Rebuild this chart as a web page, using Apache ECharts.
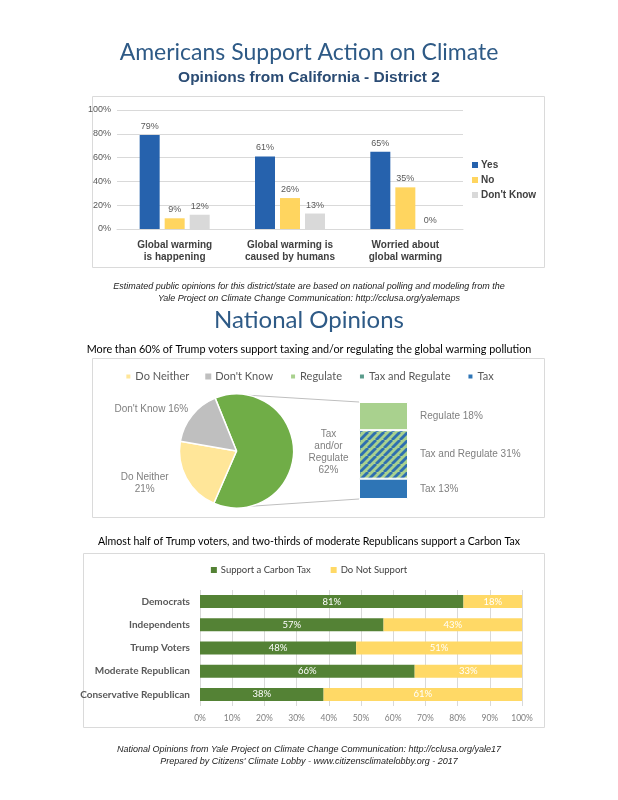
<!DOCTYPE html>
<html><head><meta charset="utf-8">
<script src="https://cdn.jsdelivr.net/npm/echarts@6/dist/echarts.min.js"></script>
<style>html,body{margin:0;padding:0;background:#fff}#c{width:618px;height:800px}</style>
</head><body><div id="c"></div>
<script>
// ---------- data ----------
const districtCategories = ['Global warming\nis happening', 'Global warming is\ncaused by humans', 'Worried about\nglobal warming'];
const districtYes = [79, 61, 65];
const districtNo = [9, 26, 35];
const districtDontKnow = [12, 13, 0];

const pieNames = ['Tax and/or Regulate', 'Do Neither', "Don't Know"];
const pieValues = [62, 21, 16];
const breakdownNames = ['Tax', 'Tax and Regulate', 'Regulate'];
const breakdownValues = [13, 31, 18];

const partyCategories = ['Democrats', 'Independents', 'Trump Voters', 'Moderate Republican', 'Conservative Republican'];
const partySupport = [81, 57, 48, 66, 38];
const partyNotSupport = [18, 43, 51, 33, 61];

// ---------- style ----------
const SANS = 'Liberation Sans, Arial, sans-serif';
const CAL = 'Lato, sans-serif';
const BLUE = '#2662AD', YELLOW = '#FFD55F', LGREY = '#D9D9D9';
const PIE_COLORS = ['#70AD47', '#FFE699', '#BFBFBF'];
const BRK_COLORS_SOLID = ['#2E75B6', '#5B9C8C', '#A9D18E'];

function hatch() {
  const P = 8, c = document.createElement('canvas');
  c.width = P; c.height = P;
  const g = c.getContext('2d');
  g.fillStyle = '#A9D18E'; g.fillRect(0, 0, P, P);
  g.strokeStyle = '#2E6FB0'; g.lineWidth = 2.8;
  for (let k = -1; k <= 1; k++) { g.beginPath(); g.moveTo(k * P, P); g.lineTo(k * P + P, 0); g.stroke(); }
  return c;
}
const brkColors = [BRK_COLORS_SOLID[0], { image: hatch(), repeat: 'repeat' }, BRK_COLORS_SOLID[2]];

// layout constants
const PIE_C = [236.5, 451], PIE_R = 57;
const BRK = { left: 359, right: 408, top: 402, bottom: 499 };
const breakdownTotal = breakdownValues.reduce((a, b) => a + b, 0);

function title(text, cy, fs, lh, extra) {
  return { text, left: 'center', top: cy - lh / 2, padding: 0,
    textStyle: Object.assign({ fontSize: fs, lineHeight: lh }, extra) };
}

const chart = echarts.init(document.getElementById('c'), null, { renderer: 'canvas' });

const pct = v => v + '%';
const partyNorm = (i, which) => {
  const t = partySupport[i] + partyNotSupport[i];
  return (which === 0 ? partySupport[i] : partyNotSupport[i]) / t * 100;
};

const rad = a => a * Math.PI / 180;
const topA = 78, botA = -76;

const option = {
  animation: false,
  title: [
    title('Americans Support Action on Climate', 53, 23, 28, { fontFamily: CAL, color: '#2E5A86', fontWeight: 'normal' }),
    title('Opinions from California - District 2', 78, 15.5, 18, { fontFamily: SANS, color: '#2B4C74', fontWeight: 'bold' }),
    title('Estimated public opinions for this district/state are based on national polling and modeling from the\nYale Project on Climate Change Communication: http://cclusa.org/yalemaps', 286.5, 9, 11.5, { fontFamily: SANS, fontStyle: 'italic', color: '#222', fontWeight: 'normal' }),
    title('National Opinions', 320, 24, 30, { fontFamily: CAL, color: '#2E5A86', fontWeight: 'normal' }),
    title('More than 60% of Trump voters support taxing and/or regulating the global warming pollution', 350, 10.8, 14, { fontFamily: CAL, color: '#000', fontWeight: 'normal' }),
    title('Almost half of Trump voters, and two-thirds of moderate Republicans support a Carbon Tax', 542, 10.6, 14, { fontFamily: CAL, color: '#000', fontWeight: 'normal' }),
    title('National Opinions from Yale Project on Climate Change Communication: http://cclusa.org/yale17\nPrepared by Citizens\' Climate Lobby - www.citizensclimatelobby.org - 2017', 749, 9, 12, { fontFamily: SANS, fontStyle: 'italic', color: '#222', fontWeight: 'normal' })
  ],
  graphic: [
    { type: 'rect', shape: { x: 92.5, y: 96.5, width: 452, height: 171 }, style: { fill: 'none', stroke: '#DADADA', lineWidth: 1 }, z: -10 },
    { type: 'rect', shape: { x: 92.5, y: 358.5, width: 452, height: 159 }, style: { fill: 'none', stroke: '#DADADA', lineWidth: 1 }, z: -10 },
    { type: 'rect', shape: { x: 83.5, y: 553.5, width: 461, height: 174 }, style: { fill: 'none', stroke: '#DADADA', lineWidth: 1 }, z: -10 },
    { type: 'line', shape: { x1: PIE_C[0] + PIE_R * Math.cos(rad(topA)), y1: PIE_C[1] - PIE_R * Math.sin(rad(topA)), x2: BRK.left, y2: BRK.top },
      style: { stroke: '#BFBFBF', lineWidth: 1 } },
    { type: 'line', shape: { x1: PIE_C[0] + PIE_R * Math.cos(rad(botA)), y1: PIE_C[1] - PIE_R * Math.sin(rad(botA)), x2: BRK.left, y2: BRK.bottom },
      style: { stroke: '#BFBFBF', lineWidth: 1 } }
  ],
  legend: [
    { data: [{ name: 'Yes', itemStyle: { color: BLUE } }, { name: 'No', itemStyle: { color: YELLOW } }, { name: "Don't Know", itemStyle: { color: LGREY } }],
      orient: 'vertical', left: 472, top: 160, icon: 'rect', itemWidth: 6, itemHeight: 6, itemGap: 5, selectedMode: false, padding: 0,
      textStyle: { fontFamily: SANS, fontWeight: 'bold', fontSize: 10, color: '#404040', padding: [0, 0, 0, -2] } },
    { data: [{ name: 'Do Neither', itemStyle: { color: PIE_COLORS[1] } }, { name: "Don't Know", itemStyle: { color: PIE_COLORS[2] } },
             { name: 'Regulate', itemStyle: { color: BRK_COLORS_SOLID[2] } }, { name: 'Tax and Regulate', itemStyle: { color: BRK_COLORS_SOLID[1] } },
             { name: 'Tax', itemStyle: { color: BRK_COLORS_SOLID[0] } }],
      left: 'center', top: 371, icon: 'rect', itemWidth: 6, itemHeight: 6, itemGap: 16, selectedMode: false, padding: 0,
      textStyle: { fontFamily: CAL, fontSize: 11, color: '#595959', padding: [0, 0, 0, -1] } },
    { data: [{ name: 'Support a Carbon Tax', itemStyle: { color: '#548235' } }, { name: 'Do Not Support', itemStyle: { color: '#FFD966' } }],
      left: 'center', top: 565, icon: 'rect', itemWidth: 6, itemHeight: 6, itemGap: 20, selectedMode: false, padding: 0,
      textStyle: { fontFamily: CAL, fontSize: 9.5, color: '#404040', padding: [0, 0, 0, -1] } }
  ],
  grid: [
    { left: 117, right: 618 - 463, top: 110, bottom: 800 - 229 },
    { left: BRK.left, right: 618 - BRK.right, top: BRK.top, bottom: 800 - BRK.bottom },
    { left: 200, right: 618 - 522, top: 590, bottom: 800 - 706 }
  ],
  xAxis: [
    { gridIndex: 0, type: 'category', data: districtCategories,
      axisLine: { lineStyle: { color: '#D9D9D9' } }, axisTick: { show: false },
      axisLabel: { fontFamily: SANS, fontWeight: 'bold', fontSize: 10, color: '#404040', lineHeight: 12, margin: 10, interval: 0 } },
    { gridIndex: 1, type: 'category', data: ['breakdown'], show: false },
    { gridIndex: 2, type: 'value', min: 0, max: 100, interval: 10,
      axisLine: { show: false }, axisTick: { show: false },
      splitLine: { lineStyle: { color: '#D9D9D9' } },
      axisLabel: { formatter: '{value}%', fontFamily: CAL, fontSize: 8.5, color: '#7F7F7F', margin: 8 } }
  ],
  yAxis: [
    { gridIndex: 0, type: 'value', min: 0, max: 100, interval: 20,
      axisLine: { show: false }, axisTick: { show: false },
      splitLine: { lineStyle: { color: '#D9D9D9' } },
      axisLabel: { formatter: '{value}%', fontFamily: SANS, fontSize: 9, color: '#595959', margin: 6 } },
    { gridIndex: 1, type: 'value', min: 0, max: breakdownTotal, show: false },
    { gridIndex: 2, type: 'category', data: partyCategories, inverse: true,
      axisLine: { show: false }, axisTick: { show: false },
      axisLabel: { fontFamily: CAL, fontWeight: 'bold', fontSize: 10, color: '#595959', margin: 10 } }
  ],
  series: [
    { name: 'Yes', type: 'bar', xAxisIndex: 0, yAxisIndex: 0, data: districtYes, barWidth: 20, barGap: '25%',
      itemStyle: { color: BLUE }, label: { show: true, position: 'top', distance: 4, formatter: p => pct(p.value), fontFamily: SANS, fontSize: 9, color: '#595959' } },
    { name: 'No', type: 'bar', xAxisIndex: 0, yAxisIndex: 0, data: districtNo, barWidth: 20, barGap: '25%',
      itemStyle: { color: YELLOW }, label: { show: true, position: 'top', distance: 4, formatter: p => pct(p.value), fontFamily: SANS, fontSize: 9, color: '#595959' } },
    { name: "Don't Know", type: 'bar', xAxisIndex: 0, yAxisIndex: 0, data: districtDontKnow, barWidth: 20, barGap: '25%',
      itemStyle: { color: LGREY }, label: { show: true, position: 'top', distance: 4, formatter: p => pct(p.value), fontFamily: SANS, fontSize: 9, color: '#595959' } },

    { type: 'pie', center: PIE_C, radius: PIE_R, startAngle: 112, clockwise: true, avoidLabelOverlap: false,
      emphasis: { disabled: true }, silent: true,
      itemStyle: { borderColor: '#fff', borderWidth: 1.5 },
      label: { show: true, position: 'outside', fontFamily: SANS, fontSize: 10, color: '#7F7F7F' },
      labelLine: { show: false },
      data: pieNames.map((n, i) => {
        const d = { name: n, value: pieValues[i], itemStyle: { color: PIE_COLORS[i] } };
        if (i === 0) {
          d.label = { formatter: p => '{a|Tax}\n{a|and/or}\n{a|Regulate}\n{a|' + p.value + '%}', distanceToLabelLine: 2,
            rich: { a: { width: 50, align: 'center', fontFamily: SANS, fontSize: 10, lineHeight: 12, color: '#7F7F7F' } } };
          d.labelLine = { show: false, length: 8, length2: 0 };
        } else if (i === 1) {
          d.label = { formatter: p => '{a|' + p.name + '}\n{a|' + p.value + '%}', distanceToLabelLine: 6,
            rich: { a: { width: 52, align: 'center', fontFamily: SANS, fontSize: 10, lineHeight: 12, color: '#7F7F7F' } } };
          d.labelLine = { show: false, length: 11, length2: 0 };
        } else {
          d.label = { formatter: p => p.name + ' ' + p.value + '%', distanceToLabelLine: -3 };
          d.labelLine = { show: false, length: 9, length2: 0 };
        }
        return d;
      }) },

    ...breakdownNames.map((n, i) => ({
      name: n, type: 'bar', xAxisIndex: 1, yAxisIndex: 1, stack: 'brk', barWidth: '100%',
      data: [breakdownValues[i]],
      itemStyle: { color: brkColors[i], borderColor: '#fff', borderWidth: 1 },
      label: { show: true, position: 'right', distance: 12, formatter: p => p.seriesName + ' ' + p.value + '%',
        fontFamily: SANS, fontSize: 10, color: '#7F7F7F' }
    })),

    { name: 'Support a Carbon Tax', type: 'bar', xAxisIndex: 2, yAxisIndex: 2, stack: 'party', barWidth: 13,
      data: partyCategories.map((c, i) => partyNorm(i, 0)),
      itemStyle: { color: '#548235' },
      label: { show: true, position: 'inside', formatter: p => pct(partySupport[p.dataIndex]), fontFamily: CAL, fontSize: 9.5, color: '#fff' } },
    { name: 'Do Not Support', type: 'bar', xAxisIndex: 2, yAxisIndex: 2, stack: 'party', barWidth: 13,
      data: partyCategories.map((c, i) => partyNorm(i, 1)),
      itemStyle: { color: '#FFD966' },
      label: { show: true, position: 'inside', formatter: p => pct(partyNotSupport[p.dataIndex]), fontFamily: CAL, fontSize: 9.5, color: '#fff' } }
  ]
};
chart.setOption(option);
</script>
</body></html>
